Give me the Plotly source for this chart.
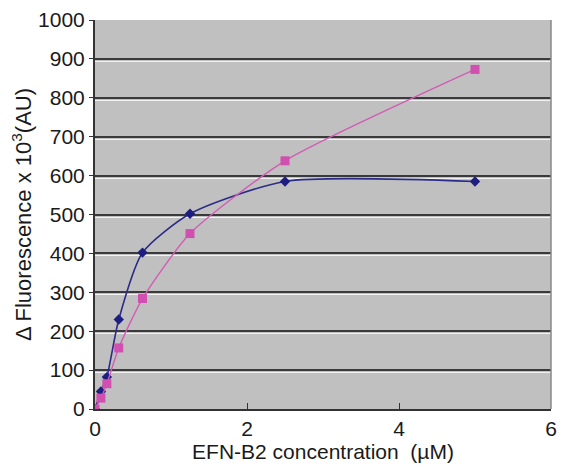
import plotly.graph_objects as go

conc = [0, 0.078, 0.156, 0.3125, 0.625, 1.25, 2.5, 5]
blue_vals = [0, 45, 82, 230, 402, 502, 585, 585]
pink_vals = [0, 28, 65, 157, 284, 451, 638, 873]
x_ticks = [0, 2, 4, 6]
y_ticks = [0, 100, 200, 300, 400, 500, 600, 700, 800, 900, 1000]

fig = go.Figure()
fig.add_trace(go.Scatter(
    x=conc, y=blue_vals, mode="lines+markers",
    line=dict(color="#2B2B88", width=1.6, shape="spline", smoothing=0.65),
    marker=dict(symbol="diamond", size=8, color="#1E1E80"),
    showlegend=False))
fig.add_trace(go.Scatter(
    x=conc, y=pink_vals, mode="lines+markers",
    line=dict(color="#D35BB5", width=1.4, shape="spline", smoothing=0.6),
    marker=dict(symbol="square", size=9, color="#D04FB0"),
    showlegend=False))
# empty trace to hold the highlight grid axis
fig.add_trace(go.Scatter(x=[None], y=[None], yaxis="y2", showlegend=False, hoverinfo="skip"))

font_fam = "Liberation Sans, Arial, sans-serif"
fig.update_layout(
    width=561, height=461,
    margin=dict(l=87, r=18, t=12, b=60),
    paper_bgcolor="white", plot_bgcolor="#C0C0C0",
    font=dict(family=font_fam, color="#1a1a1a"),
    xaxis=dict(range=[0, 6], tickvals=x_ticks, ticks="inside", ticklen=6,
               tickcolor="#333", showgrid=False, zeroline=False, automargin=False,
               showline=True, linecolor="#333", linewidth=2, mirror=False,
               tickfont=dict(size=21, family=font_fam),
               title=dict(text="EFN-B2 concentration  (µM)", font=dict(size=21, family=font_fam), standoff=2)),
    yaxis=dict(range=[0, 1000], tickvals=y_ticks, ticks="outside", ticklen=4,
               tickcolor="#333", showgrid=True, gridcolor="#3a3a3a", gridwidth=2.2,
               ticklabeloverflow="allow",
               zeroline=False, showline=True, linecolor="#333", linewidth=2, automargin=False,
               tickfont=dict(size=21, family=font_fam),
               title=dict(text="Δ Fluorescence x 10<sup>3</sup>(AU)", font=dict(size=22, family=font_fam), standoff=5)),
    yaxis2=dict(range=[6.5, 1006.5], overlaying="y", tickvals=y_ticks[1:-1], showticklabels=False,
                showgrid=True, gridcolor="#F2F2F2", gridwidth=1, zeroline=False, showline=False,
                automargin=False),
)
fig.add_shape(type="line", xref="paper", yref="paper", x0=1, x1=1, y0=0, y1=1,
              line=dict(color="#888", width=1.5))
fig.write_html("out.html")
